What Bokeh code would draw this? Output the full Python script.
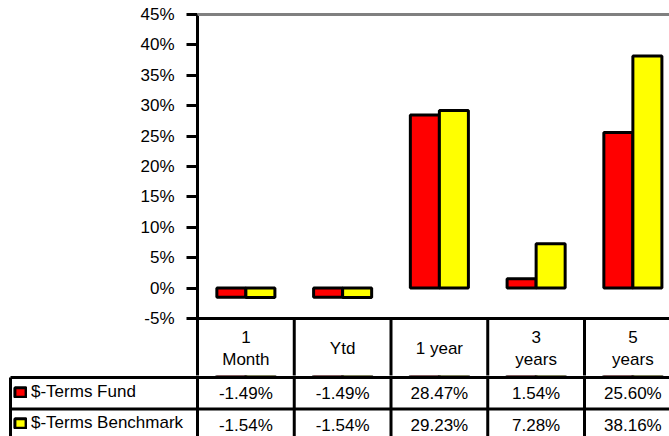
from bokeh.plotting import figure
from bokeh.layouts import column
from bokeh.models import (Range1d, FixedTicker, PrintfTickFormatter, Span,
                          Legend, LegendItem, ColumnDataSource)
from bokeh.transform import dodge
from bokeh.core.properties import value
from bokeh.embed import file_html
from bokeh.resources import INLINE

# ---- data ----
categories = ["1\nMonth", "Ytd", "1 year", "3\nyears", "5\nyears"]
fund = [-1.49, -1.49, 28.47, 1.54, 25.60]
benchmark = [-1.54, -1.54, 29.23, 7.28, 38.16]
series_names = ["$-Terms Fund", "$-Terms Benchmark"]
y_ticks = [-5, 0, 5, 10, 15, 20, 25, 30, 35, 40, 45]

FONT = "Liberation Sans"
FS = "17px"
RED = "#FF0000"
YELLOW = "#FFFF00"

# ---- layout geometry (pixels -> data units) ----
W, H = 669, 436
SPLIT = 375               # canvas y where chart figure ends and table figure starts
AX_X = 197                # canvas x of the value axis
px_per_pct = 6.08
zero_px = 287.6           # canvas y of 0%
col_w = 96.75             # px per category column


def y_of(px):
    return -(px - zero_px) / px_per_pct


X_END = (W - AX_X) / col_w
X_START_T = -AX_X / col_w
X_LEFT = (10 - AX_X) / col_w
ROW1_TOP = y_of(377)
ROW2_TOP = y_of(408.5)
HDR_MID = y_of(347.8)
ROW1_MID = y_of(393)
ROW2_MID = y_of(424.5)

n = len(categories)
xs = [i + 0.5 for i in range(n)]
src = ColumnDataSource(dict(x=xs, cat=categories, fund=fund, bench=benchmark,
                            fund_lbl=[f"{v:.2f}%" for v in fund],
                            bench_lbl=[f"{v:.2f}%" for v in benchmark]))

# ================= chart figure =================
p = figure(width=W, height=SPLIT, output_backend="svg", toolbar_location=None,
           x_range=Range1d(0, X_END), y_range=Range1d(y_of(SPLIT), y_of(0)),
           min_border_left=AX_X, min_border_right=0, min_border_top=0, min_border_bottom=0,
           x_axis_location=None, outline_line_color=None, frame_align=False)
p.xgrid.visible = False
p.ygrid.visible = False

ax = p.yaxis[0]
ax.ticker = FixedTicker(ticks=y_ticks)
ax.formatter = PrintfTickFormatter(format="%d%%")
ax.bounds = (y_of(SPLIT), 45)
ax.axis_line_width = 3
ax.axis_line_color = "black"
ax.major_tick_line_width = 3
ax.major_tick_line_color = "black"
ax.major_tick_out = 11
ax.major_tick_in = 0
ax.minor_tick_line_color = None
ax.major_label_standoff = 12
ax.major_label_text_font = FONT
ax.major_label_text_font_size = FS
ax.major_label_text_color = "black"

# top gray plot-area border
p.add_layout(Span(location=45, dimension="width", line_color="#808080", line_width=3))

p.vbar(x=dodge("x", -0.15, range=p.x_range), top="fund", bottom=0, width=0.3, source=src,
       fill_color=RED, line_color="black", line_width=3)
p.vbar(x=dodge("x", 0.15, range=p.x_range), top="bench", bottom=0, width=0.3, source=src,
       fill_color=YELLOW, line_color="black", line_width=3)

# header row of data table
p.segment(x0=[0], y0=[-5], x1=[X_END], y1=[-5], line_color="black", line_width=3)
p.segment(x0=list(range(1, n)), y0=[-5] * (n - 1), x1=list(range(1, n)),
          y1=[y_of(SPLIT + 5)] * (n - 1), line_color="black", line_width=3)
p.text(x="x", y=HDR_MID, text="cat", source=src, text_align="center", text_baseline="middle",
       text_font=value(FONT), text_font_size=FS, text_color="black", text_line_height=1.15)

# ================= data table figure =================
t = figure(width=W, height=H - SPLIT, output_backend="svg", toolbar_location=None,
           x_range=Range1d(X_START_T, X_END), y_range=Range1d(y_of(H), y_of(SPLIT)),
           min_border_left=0, min_border_right=0, min_border_top=0, min_border_bottom=0,
           x_axis_location=None, y_axis_location=None, outline_line_color=None,
           frame_align=False)
t.xgrid.visible = False
t.ygrid.visible = False

# series glyphs (values lie above this figure's range; used for legend keys)
r1 = t.vbar(x=dodge("x", -0.15, range=t.x_range), top="fund", bottom=0, width=0.3, source=src,
            fill_color=RED, line_color="black", line_width=3)
r2 = t.vbar(x=dodge("x", 0.15, range=t.x_range), top="bench", bottom=0, width=0.3, source=src,
            fill_color=YELLOW, line_color="black", line_width=3)

t.segment(x0=[X_LEFT, X_LEFT], y0=[ROW1_TOP, ROW2_TOP], x1=[X_END, X_END], y1=[ROW1_TOP, ROW2_TOP],
          line_color="black", line_width=3)
vx = list(range(0, n))
t.segment(x0=vx, y0=[y_of(SPLIT - 5)] * n, x1=vx, y1=[y_of(H + 5)] * n,
          line_color="black", line_width=3)
t.segment(x0=[X_LEFT], y0=[ROW1_TOP], x1=[X_LEFT], y1=[y_of(H + 5)],
          line_color="black", line_width=3)

t.text(x="x", y=ROW1_MID, text="fund_lbl", source=src, text_align="center", text_baseline="middle",
       text_font=value(FONT), text_font_size=FS, text_color="black")
t.text(x="x", y=ROW2_MID, text="bench_lbl", source=src, text_align="center", text_baseline="middle",
       text_font=value(FONT), text_font_size=FS, text_color="black")

legend = Legend(items=[LegendItem(label=series_names[0], renderers=[r1]),
                       LegendItem(label=series_names[1], renderers=[r2])],
                location=(13, 3), orientation="vertical",
                glyph_width=14, glyph_height=12, label_height=21, spacing=10,
                padding=0, margin=0, label_standoff=4,
                label_text_font=FONT, label_text_font_size=FS, label_text_color="black",
                background_fill_alpha=0, border_line_alpha=0)
t.add_layout(legend)

layout = column(p, t, spacing=0)
open("out.html", "w").write(file_html(layout, INLINE))
